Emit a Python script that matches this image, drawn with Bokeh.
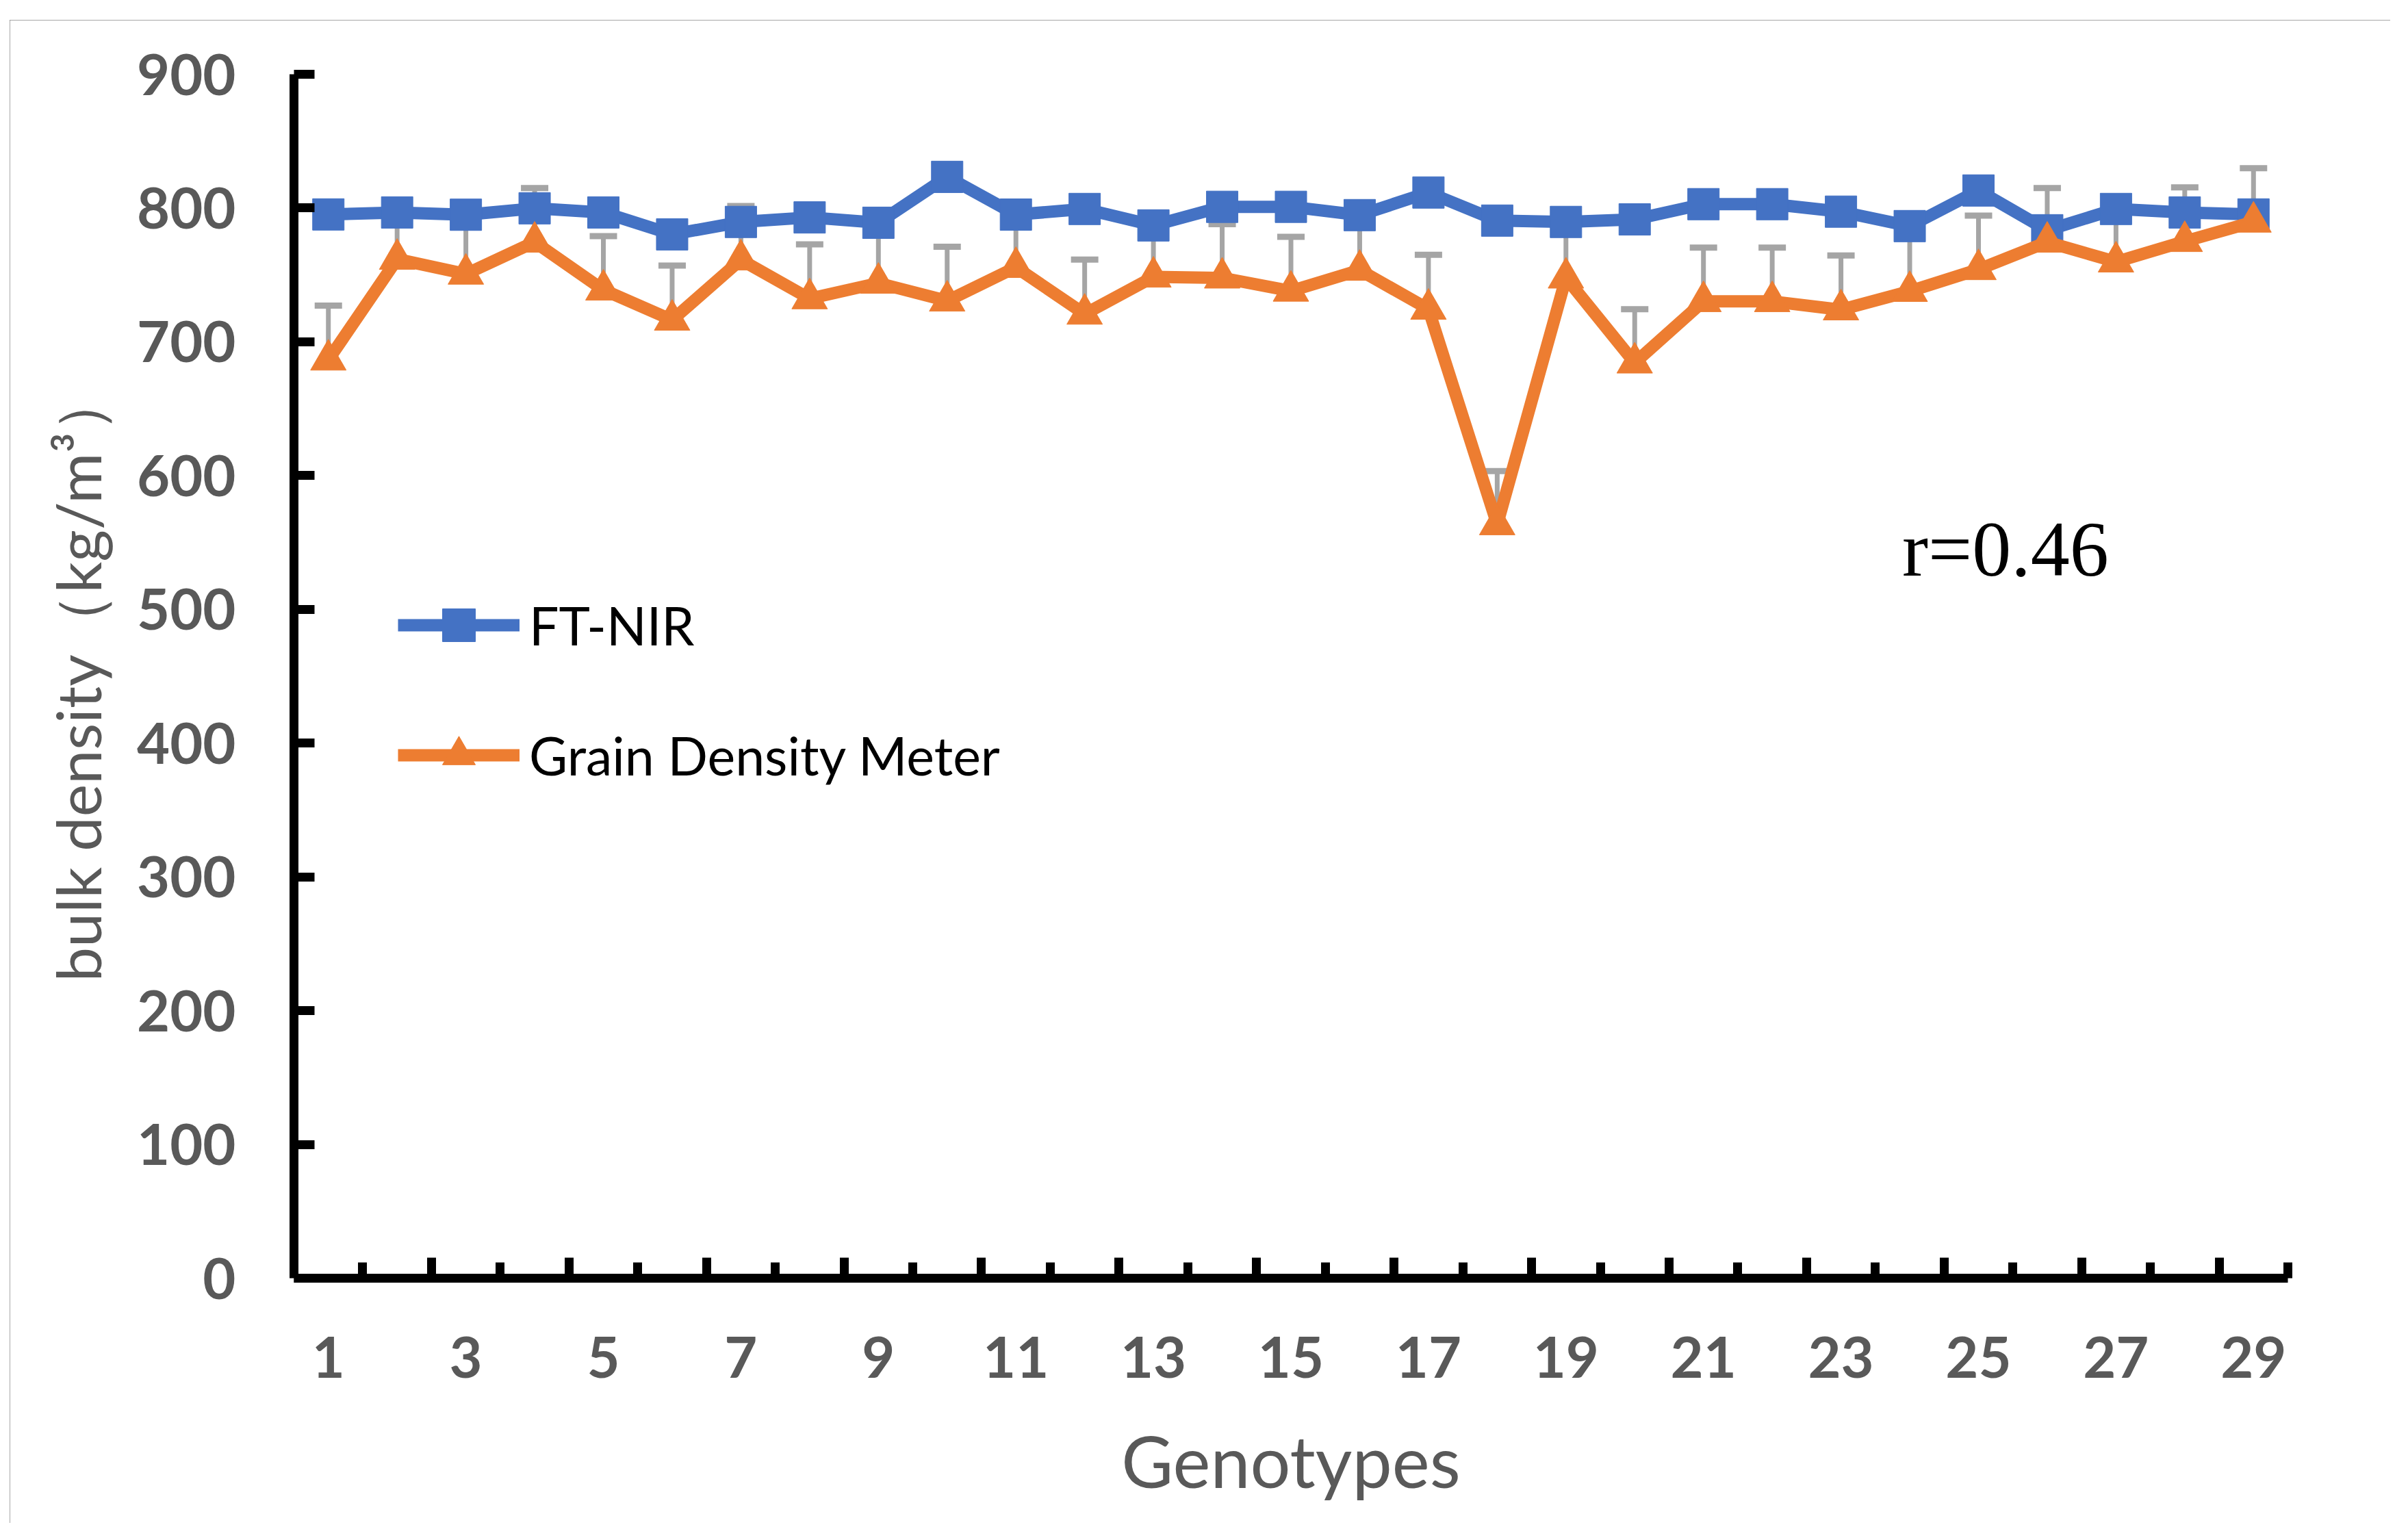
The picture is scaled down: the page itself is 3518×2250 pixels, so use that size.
from bokeh.plotting import figure
from bokeh.models import (Range1d, LinearAxis, FixedTicker, ColumnDataSource,
                          Whisker, TeeHead, Legend, LegendItem, Label)
from bokeh.embed import file_html
from bokeh.resources import INLINE

# ---------------- data ----------------
genotypes = list(range(1, 30))
ft_nir = [795.2, 796.7, 795.0, 799.8, 796.7, 780.3, 789.6, 793.0, 789.0, 823.3,
          795.1, 799.3, 787.0, 800.9, 800.9, 794.7, 811.6, 790.6, 789.6, 791.5,
          802.9, 802.9, 797.3, 786.5, 813.1, 783.4, 799.3, 796.7, 795.2]
grain_density_meter = [686.5, 761.8, 750.7, 774.6, 738.8, 716.3, 761.3, 732.3, 743.9, 730.6,
                       755.7, 720.8, 748.5, 747.8, 738.0, 753.6, 724.5, 563.4, 747.8, 684.3,
                       730.2, 730.2, 724.0, 737.8, 754.1, 774.6, 759.8, 775.1, 789.6]
gdm_error_top = [727.0, 795.0, 793.0, 815.0, 779.0, 757.0, 801.5, 772.8, 788.0, 771.0,
                 792.0, 761.5, 785.0, 788.0, 778.5, 792.0, 765.0, 603.4, 787.0, 724.4,
                 770.4, 770.4, 764.5, 785.0, 794.4, 814.9, 797.0, 815.4, 829.8]
x_tick_labels = [1, 3, 5, 7, 9, 11, 13, 15, 17, 19, 21, 23, 25, 27, 29]
y_ticks = [0, 100, 200, 300, 400, 500, 600, 700, 800, 900]
r_text = "r=0.46"

BLUE = "#4472C4"
ORANGE = "#ED7D31"
GRAY = "#A5A5A5"
TXT = "#595959"

src = ColumnDataSource(dict(x=genotypes, ft=ft_nir, gdm=grain_density_meter, top=gdm_error_top))

p = figure(width=3478, height=2196, output_backend="svg", toolbar_location=None,
           x_range=Range1d(0.5, 29.5), y_range=Range1d(0, 900),
           x_axis_location=None, y_axis_location="left",
           min_border_left=415, min_border_right=150, min_border_top=79, min_border_bottom=358,
           margin=(29, 0, 0, 14),
           styles={"outline": "4px solid #8a8a8a", "outline-offset": "-4px"})
p.outline_line_color = None
p.grid.visible = False
p.background_fill_color = "white"
p.border_fill_color = "white"

# ---------------- y axis ----------------
ya = p.yaxis[0]
ya.ticker = FixedTicker(ticks=y_ticks)
ya.axis_line_width = 13
ya.axis_line_color = "black"
ya.major_tick_in = 30
ya.major_tick_out = 0
ya.major_tick_line_width = 13
ya.major_tick_line_color = "black"
ya.minor_tick_line_color = None
ya.major_label_standoff = 85
ya.major_label_text_font = "Lato"
ya.major_label_text_font_style = "bold"
ya.major_label_text_font_size = "83px"
ya.major_label_text_color = TXT
ya.axis_label = "bulk density（kg/m³）"
ya.axis_label_text_font = "Lato"
ya.axis_label_text_font_style = "normal"
ya.axis_label_text_font_size = "90px"
ya.axis_label_text_color = TXT
ya.axis_label_standoff = 30

# ---------------- x axis: tick marks at category boundaries ----------------
boundaries_major = [b + 0.5 for b in range(2, 29, 2)]
boundaries_minor = [b + 0.5 for b in range(1, 30, 2)]
xa_ticks = LinearAxis(ticker=FixedTicker(ticks=boundaries_major, minor_ticks=boundaries_minor),
                      axis_line_width=13, axis_line_color="black",
                      major_tick_in=30, major_tick_out=0, major_tick_line_width=13,
                      major_tick_line_color="black",
                      minor_tick_in=23, minor_tick_out=0, minor_tick_line_width=13,
                      minor_tick_line_color="black",
                      major_label_text_font_size="1px", major_label_text_color=None,
                      major_label_standoff=0)
p.add_layout(xa_ticks, "below")

# ---------------- x axis: labels ----------------
xa_lab = LinearAxis(ticker=FixedTicker(ticks=x_tick_labels),
                    axis_line_color=None, major_tick_line_color=None, minor_tick_line_color=None,
                    major_tick_in=0, major_tick_out=0, minor_tick_in=0, minor_tick_out=0,
                    major_label_standoff=85,
                    major_label_text_font="Lato", major_label_text_font_style="bold",
                    major_label_text_font_size="83px", major_label_text_color=TXT,
                    axis_label="Genotypes", axis_label_standoff=55,
                    axis_label_text_font="Lato", axis_label_text_font_style="normal",
                    axis_label_text_font_size="104px", axis_label_text_color=TXT)
p.add_layout(xa_lab, "below")

# ---------------- error bars ----------------
wh = Whisker(source=src, base="x", upper="top", lower="gdm", dimension="height",
             line_color=GRAY, line_width=7, lower_head=None,
             upper_head=TeeHead(size=40, line_color=GRAY, line_width=9), level="underlay")
p.add_layout(wh)

# ---------------- series ----------------
l1 = p.line("x", "ft", source=src, line_color=BLUE, line_width=18, line_join="round")
s1 = p.scatter("x", "ft", source=src, marker="square", size=46,
               fill_color=BLUE, line_color=BLUE)
l2 = p.line("x", "gdm", source=src, line_color=ORANGE, line_width=18, line_join="round")
s2 = p.scatter("x", "gdm", source=src, marker="triangle", size=52,
               fill_color=ORANGE, line_color=ORANGE)

legend = Legend(items=[LegendItem(label="FT-NIR", renderers=[l1, s1]),
                       LegendItem(label="Grain Density Meter", renderers=[l2, s2])],
                location=(152, 704), orientation="vertical",
                border_line_color=None, background_fill_alpha=0,
                padding=0, margin=0, spacing=70,
                glyph_width=178, glyph_height=120, label_standoff=14,
                label_text_font="Lato", label_text_font_size="77px", label_text_color="black")
p.add_layout(legend)

p.add_layout(Label(x=23.89, y=545, text=r_text, text_font="Liberation Serif",
                   text_font_size="114px", text_baseline="alphabetic", text_color="black"))

open("out.html", "w").write(file_html(p, INLINE))
